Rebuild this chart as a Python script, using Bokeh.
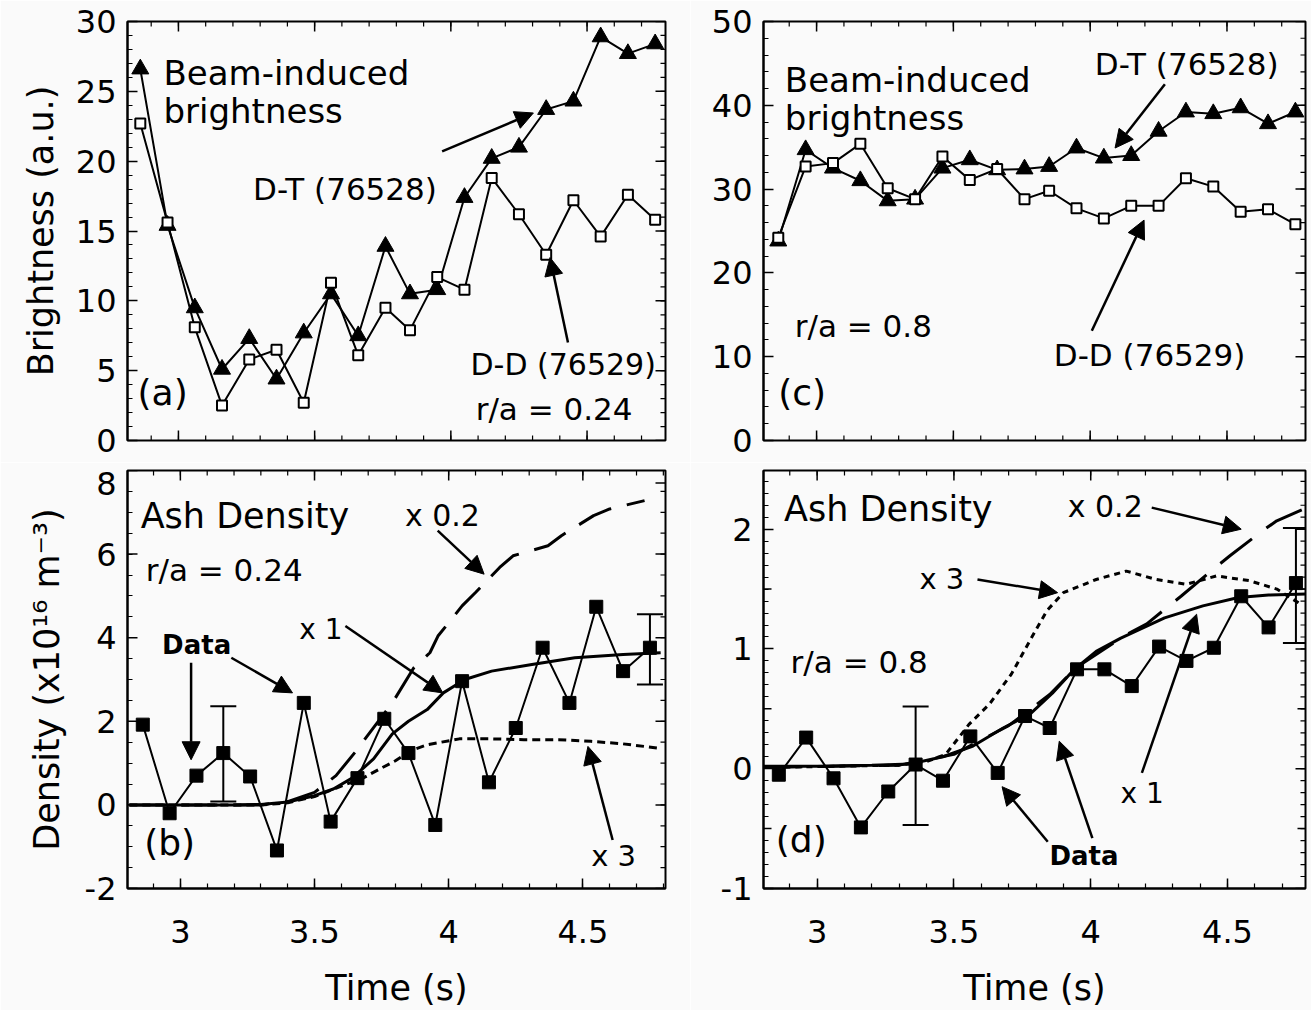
import math
from bokeh.plotting import figure
from bokeh.layouts import gridplot
from bokeh.models import (Range1d, FixedTicker, Label, Arrow, NormalHead,
                          Whisker, TeeHead, ColumnDataSource)
from bokeh.embed import file_html
from bokeh.resources import INLINE

FONT = "DejaVu Sans"
BG = "#fafafa"

# ---------------- data ----------------
time_s = [2.86, 2.96, 3.06, 3.16, 3.26, 3.36, 3.46, 3.56, 3.66, 3.76,
          3.85, 3.95, 4.05, 4.15, 4.25, 4.35, 4.45, 4.55, 4.65, 4.75]

# (a) beam-induced brightness, r/a = 0.24
bright_dt_024 = [26.6, 15.4, 9.5, 5.1, 7.3, 4.4, 7.7, 10.5, 7.5, 13.9,
                 10.5, 10.8, 17.4, 20.2, 21.0, 23.7, 24.3, 28.9, 27.7, 28.4]
bright_dd_024 = [22.7, 15.6, 8.1, 2.5, 5.8, 6.5, 2.7, 11.3, 6.1, 9.5,
                 7.9, 11.7, 10.8, 18.8, 16.2, 13.3, 17.2, 14.6, 17.6, 15.8]

# (c) beam-induced brightness, r/a = 0.8
bright_dt_08 = [23.8, 34.7, 32.5, 31.0, 28.6, 28.8, 32.5, 33.5, 32.3, 32.4,
                32.7, 34.9, 33.7, 34.0, 36.9, 39.2, 39.0, 39.7, 37.8, 39.2]
bright_dd_08 = [24.2, 32.7, 33.1, 35.4, 30.1, 28.8, 33.9, 31.1, 32.4, 28.8,
                29.8, 27.7, 26.5, 28.0, 28.0, 31.3, 30.3, 27.3, 27.6, 25.8]

# (b) ash density data, r/a = 0.24
ash_data_024 = [1.92, -0.2, 0.7, 1.24, 0.68, -1.09, 2.44, -0.4, 0.64, 2.06,
                1.24, -0.48, 2.96, 0.54, 1.84, 3.76, 2.44, 4.74, 3.2, 3.76]
err_024_idx = [3, 19]
err_024_upper = [2.36, 4.56]
err_024_lower = [0.08, 2.88]

# (d) ash density data, r/a = 0.8
ash_data_08 = [-0.05, 0.26, -0.08, -0.49, -0.19, 0.035, -0.1, 0.27, -0.035, 0.44,
               0.34, 0.83, 0.83, 0.69, 1.02, 0.9, 1.01, 1.44, 1.18, 1.55]
err_08_idx = [5, 19]
err_08_upper = [0.52, 2.01]
err_08_lower = [-0.47, 1.05]

# model curves r/a = 0.24
m024_t_x1 = [2.81, 3.0, 3.2, 3.3, 3.4, 3.5, 3.57, 3.64, 3.72, 3.79, 3.85, 3.92,
             3.98, 4.06, 4.16, 4.31, 4.47, 4.65, 4.79]
m024_x1 = [0, 0, 0, 0.01, 0.07, 0.22, 0.38, 0.64, 1.1, 1.7, 2.0, 2.28,
           2.68, 3.0, 3.2, 3.36, 3.52, 3.6, 3.64]
m024_t_x3 = [2.81, 3.3, 3.4, 3.5, 3.6, 3.68, 3.74, 3.8, 3.86, 3.92, 4.04, 4.16,
             4.28, 4.41, 4.53, 4.65, 4.78]
m024_x3 = [0, 0, 0.05, 0.2, 0.45, 0.64, 0.85, 1.05, 1.3, 1.44, 1.58, 1.58,
           1.56, 1.56, 1.52, 1.46, 1.36]
m024_t_x02 = [2.81, 3.3, 3.4, 3.5, 3.58, 3.65, 3.72, 3.79, 3.87, 3.93, 3.96, 4.05,
              4.1, 4.19, 4.24, 4.37, 4.42, 4.54, 4.6, 4.73]
m024_x02 = [0, 0, 0.08, 0.3, 0.7, 1.25, 1.85, 2.44, 3.28, 3.64, 4.04, 4.76,
            5.08, 5.68, 5.96, 6.2, 6.44, 6.92, 7.08, 7.28]

# model curves r/a = 0.8
m08_t_x1 = [2.8, 3.0, 3.2, 3.34, 3.46, 3.57, 3.68, 3.78, 3.86, 3.94, 4.02, 4.11,
            4.27, 4.41, 4.54, 4.65, 4.79]
m08_x1 = [0.02, 0.02, 0.03, 0.04, 0.1, 0.19, 0.34, 0.46, 0.63, 0.83, 0.98, 1.09,
          1.26, 1.36, 1.43, 1.45, 1.46]
m08_t_x3 = [2.8, 3.3, 3.4, 3.47, 3.555, 3.63, 3.71, 3.785, 3.84, 3.9, 4.02, 4.13,
            4.24, 4.35, 4.46, 4.58, 4.68, 4.77]
m08_x3 = [0.01, 0.03, 0.06, 0.12, 0.37, 0.54, 0.79, 1.1, 1.32, 1.47, 1.58, 1.65,
          1.58, 1.54, 1.61, 1.57, 1.5, 1.37]
m08_t_x02 = [2.8, 3.3, 3.5, 3.7, 3.85, 3.95, 4.05, 4.13, 4.205, 4.27, 4.33, 4.45,
             4.51, 4.63, 4.68, 4.79]
m08_x02 = [0.01, 0.03, 0.12, 0.36, 0.62, 0.85, 1.0, 1.12, 1.21, 1.33, 1.44, 1.67,
           1.78, 1.99, 2.07, 2.18]

# axes ticks
x_major = [3.0, 3.5, 4.0, 4.5]
x_minor = [2.8, 2.9, 3.0, 3.1, 3.2, 3.3, 3.4, 3.5, 3.6, 3.7, 3.8, 3.9, 4.0,
           4.1, 4.2, 4.3, 4.4, 4.5, 4.6, 4.7, 4.8]
x_labels = {3.0: "3", 3.5: "3.5", 4.0: "4", 4.5: "4.5"}

ya_major = [0, 5, 10, 15, 20, 25, 30]
ya_minor = list(range(0, 31))
yc_major = [0, 10, 20, 30, 40, 50]
yc_minor = list(range(0, 51, 2))
yb_major = [-2, 0, 2, 4, 6, 8]
yb_minor = [-2 + 0.5 * i for i in range(21)]
# the top label "8" sits just under its tick (as in the original) so it stays on the canvas
yb_label_pos = [-2, 0, 2, 4, 6, 7.7]
yb_labels = {-2: "-2", 0: "0", 2: "2", 4: "4", 6: "6", 7.7: "8"}
yd_major = [-1, 0, 1, 2]
yd_mid = [-0.5, 0.5, 1.5]
yd_minor = [round(-1 + 0.1 * i, 2) for i in range(35)]
yd_labels = {-1: "-1", 0: "0", 1: "1", 2: "2"}

# annotation arrows (x_start, y_start, x_end, y_end) in data units
arrows_a = [(3.968, 20.7, 4.303, 23.45), (4.43, 7.02, 4.364, 13.1)]
arrows_c = [(4.273, 42.5, 4.091, 34.9), (4.006, 13.1, 4.197, 26.3)]
arrows_b = [(3.04, 3.4, 3.04, 1.08), (3.19, 3.52, 3.418, 2.68),
            (3.615, 4.28, 3.978, 2.68), (3.959, 6.56, 4.132, 5.52),
            (4.611, -0.84, 4.519, 1.4)]
arrows_d = [(4.223, 2.18, 4.55, 2.0), (3.586, 1.58, 3.879, 1.47),
            (4.187, -0.035, 4.387, 1.29), (4.006, -0.58, 3.885, 0.23),
            (3.843, -0.61, 3.676, -0.15)]

# text labels (x, y, text, size, bold)
labels_a = [(2.945, 26.3, "Beam-induced", 34, False), (2.945, 23.6, "brightness", 34, False),
            (3.274, 18.0, "D-T (76528)", 31, False), (4.072, 5.43, "D-D (76529)", 30, False),
            (4.091, 2.29, "r/a = 0.24", 31, False), (2.85, 3.43, "(a)", 36, False)]
labels_c = [(2.884, 43.0, "Beam-induced", 34, False), (2.884, 38.5, "brightness", 34, False),
            (4.017, 44.9, "D-T (76528)", 31, False), (3.867, 10.2, "D-D (76529)", 31, False),
            (2.92, 13.7, "r/a = 0.8", 31, False), (2.86, 5.68, "(c)", 36, False)]
labels_b = [(2.852, 6.92, "Ash Density", 35, False), (2.871, 5.62, "r/a = 0.24", 31, False),
            (2.932, 3.83, "Data", 26, True), (3.443, 4.2, "x 1", 28, False),
            (3.837, 6.92, "x 0.2", 30, False), (4.531, -1.23, "x 3", 29, False),
            (2.865, -0.9, "(b)", 36, False)]
labels_d = [(2.879, 2.17, "Ash Density", 35, False), (3.916, 2.19, "x 0.2", 30, False),
            (3.374, 1.58, "x 3", 29, False), (2.903, 0.89, "r/a = 0.8", 31, False),
            (4.109, -0.21, "x 1", 28, False), (3.849, -0.73, "Data", 26, True),
            (2.849, -0.59, "(d)", 36, False)]


# ---------------- helpers ----------------
def style_axis(ax, major, minor, overrides=None):
    ax.ticker = FixedTicker(ticks=major, minor_ticks=minor)
    ax.major_tick_in = 10
    ax.major_tick_out = 0
    ax.minor_tick_in = 5
    ax.minor_tick_out = 0
    ax.major_tick_line_width = 1.5
    ax.minor_tick_line_width = 1.2
    ax.major_tick_line_color = "black"
    ax.minor_tick_line_color = "black"
    ax.axis_line_width = 2
    ax.axis_line_color = "black"
    ax.major_label_text_font = FONT
    ax.major_label_text_font_size = "32px"
    ax.major_label_text_color = "black"
    ax.axis_label_text_font = FONT
    ax.axis_label_text_font_size = "35px"
    ax.axis_label_text_font_style = "normal"
    ax.axis_label_text_color = "black"
    if overrides:
        ax.major_label_overrides = overrides


def rays(p, side, pos, ln, lw, xr, yr):
    n = len(pos)
    if side == "top":
        xs, ys, ang = pos, [yr[1]] * n, -math.pi / 2
    elif side == "bottom":
        xs, ys, ang = pos, [yr[0]] * n, math.pi / 2
    elif side == "left":
        xs, ys, ang = [xr[0]] * n, pos, 0.0
    else:
        xs, ys, ang = [xr[1]] * n, pos, math.pi
    p.ray(x=xs, y=ys, length=ln, length_units="screen", angle=ang,
          line_color="black", line_width=lw)


def edge_ticks(p, side, major, minor, xr, yr):
    rays(p, side, major, 10, 1.5, xr, yr)
    rays(p, side, minor, 5, 1.2, xr, yr)


def make_panel(w, h, ml, mr, mt, mb, xr, yr, y_major, y_minor, y_over,
               bottom_labels, ylabel, label_standoff):
    p = figure(width=w, height=h, x_range=Range1d(*xr), y_range=Range1d(*yr),
               output_backend="svg", toolbar_location=None,
               x_axis_location="below" if bottom_labels else None,
               min_border_left=ml, min_border_right=mr,
               min_border_top=mt, min_border_bottom=mb,
               background_fill_color=BG, border_fill_color=BG,
               outline_line_color="black", outline_line_width=2)
    p.grid.visible = False
    ya = p.yaxis[0]
    style_axis(ya, y_major, y_minor, y_over)
    ya.major_label_standoff = 11
    if ylabel:
        ya.axis_label = ylabel
        ya.axis_label_standoff = label_standoff
    if bottom_labels:
        xa = p.xaxis[0]
        style_axis(xa, x_major, x_minor, x_labels)
        xa.major_label_standoff = 31
        xa.axis_label = "Time (s)"
        xa.axis_label_standoff = 22
    else:
        edge_ticks(p, "bottom", x_major, x_minor, xr, yr)
    edge_ticks(p, "top", x_major, x_minor, xr, yr)
    edge_ticks(p, "right", y_major, y_minor, xr, yr)
    return p


def add_arrows(p, arrows):
    for x0, y0, x1, y1 in arrows:
        p.add_layout(Arrow(end=NormalHead(size=18, fill_color="black", line_color="black",
                                          line_width=1),
                           x_start=x0, y_start=y0, x_end=x1, y_end=y1,
                           line_width=2.5, line_color="black"))


def add_labels(p, labels):
    for x, y, t, s, b in labels:
        p.add_layout(Label(x=x, y=y, text=t, text_font=FONT, text_font_size=f"{s}px",
                           text_font_style="bold" if b else "normal",
                           text_align="left", text_baseline="middle", text_color="black"))


def add_errbars(p, idx, upper, lower):
    src = ColumnDataSource(dict(base=[time_s[i] for i in idx], upper=upper, lower=lower))
    p.add_layout(Whisker(source=src, base="base", upper="upper", lower="lower",
                         line_width=2, line_color="black",
                         upper_head=TeeHead(size=26, line_width=2, line_color="black"),
                         lower_head=TeeHead(size=26, line_width=2, line_color="black")))


# ---------------- panel (a) ----------------
xr_a = (2.813, 4.788)
pa = make_panel(690, 462, 127, 22, 21, 21, xr_a, (0, 30),
                ya_major, ya_minor, None, False, "Brightness (a.u.)", 12)
pa.line(time_s, bright_dt_024, line_color="black", line_width=2)
pa.scatter(time_s, bright_dt_024, marker="triangle", size=17,
           fill_color="black", line_color="black")
pa.line(time_s, bright_dd_024, line_color="black", line_width=2)
pa.scatter(time_s, bright_dd_024, marker="square", size=10,
           fill_color="white", line_color="black", line_width=2)
add_arrows(pa, arrows_a)
add_labels(pa, labels_a)

# ---------------- panel (c) ----------------
pc = make_panel(621, 462, 73, 5, 20, 22, (2.806, 4.787), (0, 50),
                yc_major, yc_minor, None, False, None, 0)
pc.line(time_s, bright_dt_08, line_color="black", line_width=2)
pc.scatter(time_s, bright_dt_08, marker="triangle", size=17,
           fill_color="black", line_color="black")
pc.line(time_s, bright_dd_08, line_color="black", line_width=2)
pc.scatter(time_s, bright_dd_08, marker="square", size=10,
           fill_color="white", line_color="black", line_width=2)
add_arrows(pc, arrows_c)
add_labels(pc, labels_c)

# ---------------- panel (b) ----------------
xr_b = (2.803, 4.808)
yr_b = (-2, 8)
pb = make_panel(690, 548, 122, 25, 8, 122, xr_b, yr_b,
                yb_label_pos, yb_minor, yb_labels, True,
                "Density (x10\u00b9\u2076 m\u207b\u00b3)", 15)
pb.yaxis[0].major_tick_in = 0          # label anchors only; tick marks drawn below
rays(pb, "left", yb_major, 10, 1.5, xr_b, yr_b)
pb.line(m024_t_x1, m024_x1, line_color="black", line_width=3)
pb.line(m024_t_x3, m024_x3, line_color="black", line_width=3, line_dash="8 5")
pb.line(m024_t_x02, m024_x02, line_color="black", line_width=3, line_dash="36 16")
pb.line(time_s, ash_data_024, line_color="black", line_width=2)
pb.scatter(time_s, ash_data_024, marker="square", size=13,
           fill_color="black", line_color="black")
add_errbars(pb, err_024_idx, err_024_upper, err_024_lower)
add_arrows(pb, arrows_b)
add_labels(pb, labels_b)

# ---------------- panel (d) ----------------
xr_d = (2.804, 4.785)
yr_d = (-1, 2.49)
pd_ = make_panel(621, 548, 68, 6, 8, 122, xr_d, yr_d,
                 yd_major, yd_minor, yd_labels, True, None, 0)
rays(pd_, "left", yd_mid, 8, 1.5, xr_d, yr_d)
rays(pd_, "right", yd_mid, 8, 1.5, xr_d, yr_d)
pd_.line(m08_t_x1, m08_x1, line_color="black", line_width=3)
pd_.line(m08_t_x3, m08_x3, line_color="black", line_width=3, line_dash="6 5")
pd_.line(m08_t_x02, m08_x02, line_color="black", line_width=3, line_dash="40 18")
pd_.line(time_s, ash_data_08, line_color="black", line_width=2)
pd_.scatter(time_s, ash_data_08, marker="square", size=13,
            fill_color="black", line_color="black")
add_errbars(pd_, err_08_idx, err_08_upper, err_08_lower)
add_arrows(pd_, arrows_d)
add_labels(pd_, labels_d)

grid = gridplot([[pa, pc], [pb, pd_]], toolbar_location=None)

open("out.html", "w").write(file_html(grid, INLINE))
